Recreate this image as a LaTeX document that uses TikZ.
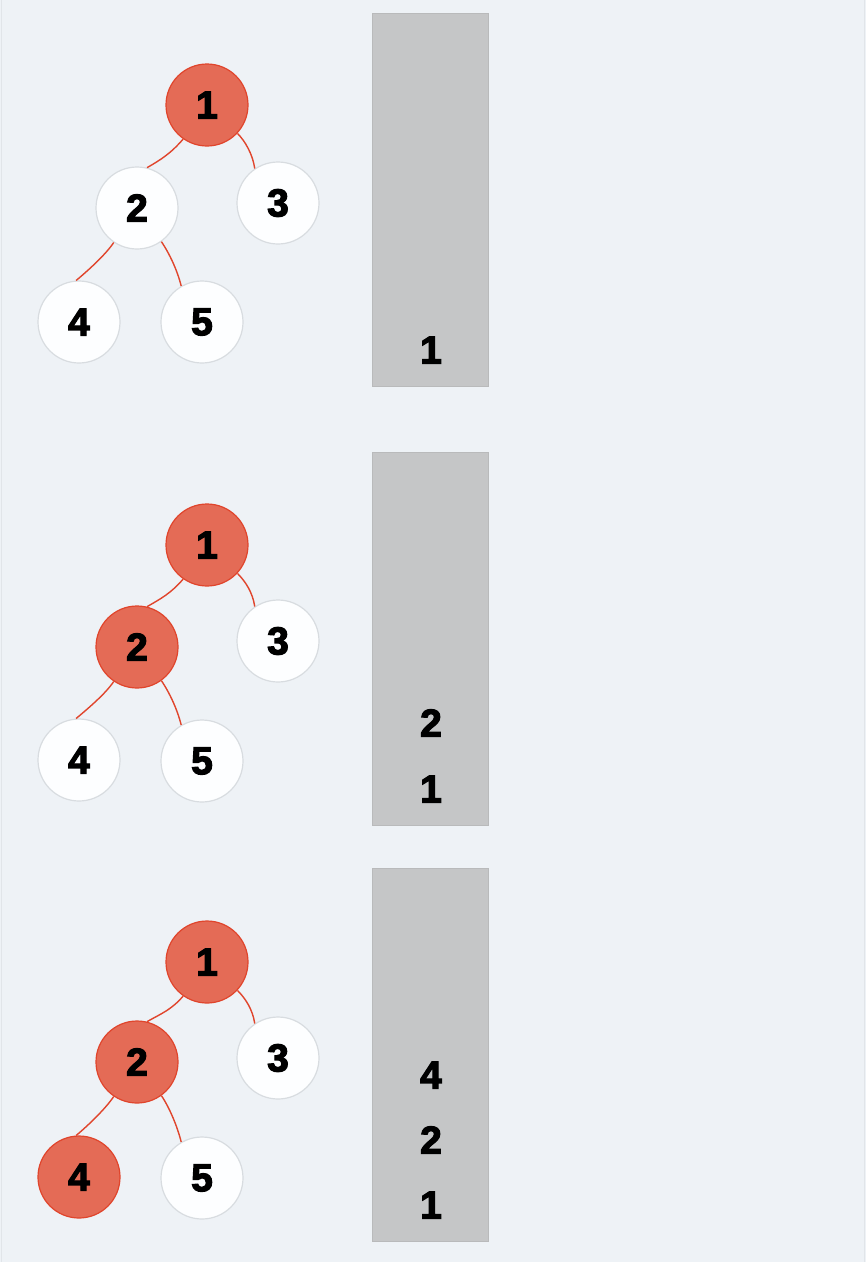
\documentclass[tikz,border=0pt]{standalone}
\usepackage{fontspec}
\setmainfont{Liberation Sans}
\newfontfamily\digitfont[FakeBold=3]{Liberation Sans Bold}
\definecolor{bgc}{HTML}{EEF2F6}
\definecolor{bgline}{HTML}{E1E5E9}
\definecolor{redfill}{HTML}{E46B56}
\definecolor{redline}{HTML}{E0452C}
\definecolor{whfill}{HTML}{FDFEFF}
\definecolor{whline}{HTML}{D8DCE0}
\definecolor{stackfill}{HTML}{C5C6C7}
\definecolor{stackline}{HTML}{B9BABB}
\tikzset{
  tnode/.style={circle, minimum size=82pt, inner sep=0pt, line width=1.2pt,
    font=\digitfont\fontsize{39}{39}\selectfont},
  plain/.style={tnode, fill=whfill, draw=whline},
  visited/.style={tnode, fill=redfill, draw=redline},
  edge/.style={draw=redline, line width=1.4pt},
  stackbox/.style={fill=stackfill, draw=stackline, line width=1pt},
  stacktxt/.style={font=\digitfont\fontsize{39}{39}\selectfont, inner sep=0pt}
}
\begin{document}
\begin{tikzpicture}[x=1pt,y=-1pt]
\useasboundingbox (0,0) rectangle (866,1262);
\fill[bgc] (0,0) rectangle (866,1262);
\draw[bgline, line width=1.5pt] (1.5,0) -- (1.5,1262);
\draw[bgline, line width=1.5pt] (864.5,0) -- (864.5,1262);

% ---------- Panel 1 ----------
\node[visited] (a1) at (207,105) {1};
\node[plain] (a2) at (137,208) {2};
\node[plain] (a3) at (278,203) {3};
\node[plain] (a4) at (79,322) {4};
\node[plain] (a5) at (202,322) {5};
\draw[edge] (a1.235) .. controls +(-12,14) and +(14,-8) .. (a2.76);
\draw[edge] (a1.317) .. controls +(8,8) and +(-2,-14) .. (a3.124);
\draw[edge] (a2.236) .. controls +(-8,12) and +(12,-10) .. (a4.94);
\draw[edge] (a2.306) .. controls +(8,12) and +(-4,-16) .. (a5.120);
\node[stackbox, minimum width=116pt, minimum height=373pt, inner sep=0pt] (s1) at (430,199.5) {};
\node[stacktxt] (s1a) at (431,350) {1};

% ---------- Panel 2 ----------
\node[visited] (b1) at (207,545) {1};
\node[visited] (b2) at (137,647) {2};
\node[plain] (b3) at (278,641) {3};
\node[plain] (b4) at (79,760) {4};
\node[plain] (b5) at (202,761) {5};
\draw[edge] (b1.235) .. controls +(-12,14) and +(14,-8) .. (b2.76);
\draw[edge] (b1.317) .. controls +(8,8) and +(-2,-14) .. (b3.124);
\draw[edge] (b2.236) .. controls +(-8,12) and +(12,-10) .. (b4.94);
\draw[edge] (b2.306) .. controls +(8,12) and +(-4,-16) .. (b5.120);
\node[stackbox, minimum width=116pt, minimum height=373pt, inner sep=0pt] (s2) at (430,638.5) {};
\node[stacktxt] (s2a) at (431,723) {2};
\node[stacktxt] (s2b) at (431,789) {1};

% ---------- Panel 3 ----------
\node[visited] (c1) at (207,962) {1};
\node[visited] (c2) at (137,1062) {2};
\node[plain] (c3) at (278,1058) {3};
\node[visited] (c4) at (79,1177) {4};
\node[plain] (c5) at (202,1178) {5};
\draw[edge] (c1.235) .. controls +(-12,14) and +(14,-8) .. (c2.76);
\draw[edge] (c1.317) .. controls +(8,8) and +(-2,-14) .. (c3.124);
\draw[edge] (c2.236) .. controls +(-8,12) and +(12,-10) .. (c4.94);
\draw[edge] (c2.306) .. controls +(8,12) and +(-4,-16) .. (c5.120);
\node[stackbox, minimum width=116pt, minimum height=373pt, inner sep=0pt] (s3) at (430,1054.5) {};
\node[stacktxt] (s3a) at (431,1075) {4};
\node[stacktxt] (s3b) at (431,1140) {2};
\node[stacktxt] (s3c) at (431,1205) {1};
\end{tikzpicture}
\end{document}
